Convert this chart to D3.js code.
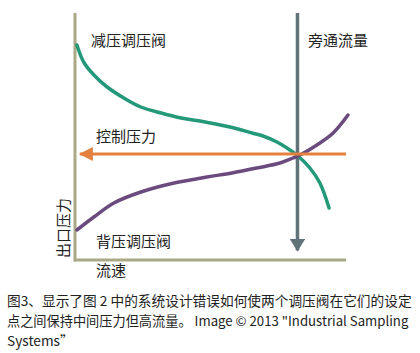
<!DOCTYPE html>
<html><head><meta charset="utf-8">
<script src="https://cdn.jsdelivr.net/npm/d3@7"></script>
<style>
html,body{margin:0;padding:0;background:#fff;}
svg{display:block;font-family:"Noto Sans CJK SC","Noto Sans",sans-serif;}
</style></head>
<body><svg id="c" width="420" height="353"></svg>
<script>
// Relative flow (x) vs outlet pressure (y), 0-100 scale
const reliefFlow = [0.7, 3.3, 7, 11.9, 18.1, 24.4, 31.9, 39.3, 46.3, 57.4, 65.6, 69.6, 74.8, 79.6, 82.6, 87, 90.7, 94.1];
const reliefPressure = [86, 79, 74, 69.2, 64.8, 61.2, 58.8, 56.8, 55.6, 53.2, 50.8, 49.6, 47.2, 44, 41.6, 36.8, 30.8, 20.8];
const backFlow = [0.7, 7, 14.4, 24.4, 36.7, 48.9, 58.1, 67.4, 75.9, 80.7, 83.3, 89.6, 95.6, 101.1];
const backPressure = [12, 17.2, 22.8, 27.2, 30.8, 33.2, 34.8, 36.8, 38.8, 40.8, 42, 46, 50.8, 58];
const controlPressure = 42.4;
const bypassFlow = 82.4;
const labels = {relief: "减压调压阀", bypass: "旁通流量", control: "控制压力", back: "背压调压阀", xTitle: "流速", yTitle: "出口压力"};
const caption = ["图3、显示了图 2 中的系统设计错误如何使两个调压阀在它们的设定",
  "点之间保持中间压力但高流量。 Image © 2013 \"Industrial Sampling",
  "Systems”"];

const svg = d3.select("#c");
const x = d3.scaleLinear().domain([0, 100]).range([75, 345]);
const y = d3.scaleLinear().domain([0, 100]).range([260, 10]);

const defs = svg.append("defs");
defs.append("marker").attr("id","mo").attr("markerUnits","userSpaceOnUse")
  .attr("viewBox","0 0 14 14").attr("refX",13).attr("refY",7)
  .attr("markerWidth",14).attr("markerHeight",14).attr("orient","auto")
  .append("path").attr("d","M0,0 L14,7 L0,14 Z").attr("fill","#e4813f");
defs.append("marker").attr("id","mg").attr("markerUnits","userSpaceOnUse")
  .attr("viewBox","0 0 13 16").attr("refX",12).attr("refY",8)
  .attr("markerWidth",13).attr("markerHeight",16).attr("orient","auto")
  .append("path").attr("d","M0,0 L13,8 L0,16 Z").attr("fill","#5f7378");

// axes
svg.append("line").attr("x1",x(0)).attr("x2",x(0)).attr("y1",y(98.8)).attr("y2",y(-0.6))
  .attr("stroke","#aaa985").attr("stroke-width",3);
svg.append("line").attr("x1",x(-0.4)).attr("x2",x(100.4)).attr("y1",y(0)).attr("y2",y(0))
  .attr("stroke","#aaa985").attr("stroke-width",3);

// bypass line
svg.append("line").attr("x1",x(bypassFlow)).attr("x2",x(bypassFlow)).attr("y1",y(98.8)).attr("y2",y(3.8))
  .attr("stroke","#5f7378").attr("stroke-width",3.5).attr("marker-end","url(#mg)");

const line = d3.line().x(d=>x(d[0])).y(d=>y(d[1])).curve(d3.curveCatmullRom.alpha(0.5));
svg.append("path").attr("d", line(reliefFlow.map((f,i)=>[f, reliefPressure[i]])))
  .attr("fill","none").attr("stroke","#24997a").attr("stroke-width",3.5).attr("stroke-linecap","round");
svg.append("path").attr("d", line(backFlow.map((f,i)=>[f, backPressure[i]])))
  .attr("fill","none").attr("stroke","#6b4a7e").attr("stroke-width",3.5).attr("stroke-linecap","round");

// control pressure arrow
svg.append("line").attr("x1",x(100.4)).attr("x2",x(1.8)).attr("y1",y(controlPressure)).attr("y2",y(controlPressure))
  .attr("stroke","#e4813f").attr("stroke-width",3).attr("marker-end","url(#mo)");

const lab = (t,px,py)=>svg.append("text").attr("x",px).attr("y",py).attr("font-size",15).attr("fill","#222").text(t);
lab(labels.relief, 91, 46);
lab(labels.bypass, 308, 46);
lab(labels.control, 96, 142);
lab(labels.back, 96, 247);
lab(labels.xTitle, 96, 276);
svg.append("text").attr("transform","translate(69,258) rotate(-90)").attr("font-size",15).attr("fill","#222").text(labels.yTitle);

const capSize = [13.7, 13.2, 13.7];
caption.forEach((t,i)=>{
  svg.append("text").attr("x",7).attr("y",306+i*20).attr("font-size",capSize[i]).attr("fill","#222").text(t);
});
</script></body></html>
